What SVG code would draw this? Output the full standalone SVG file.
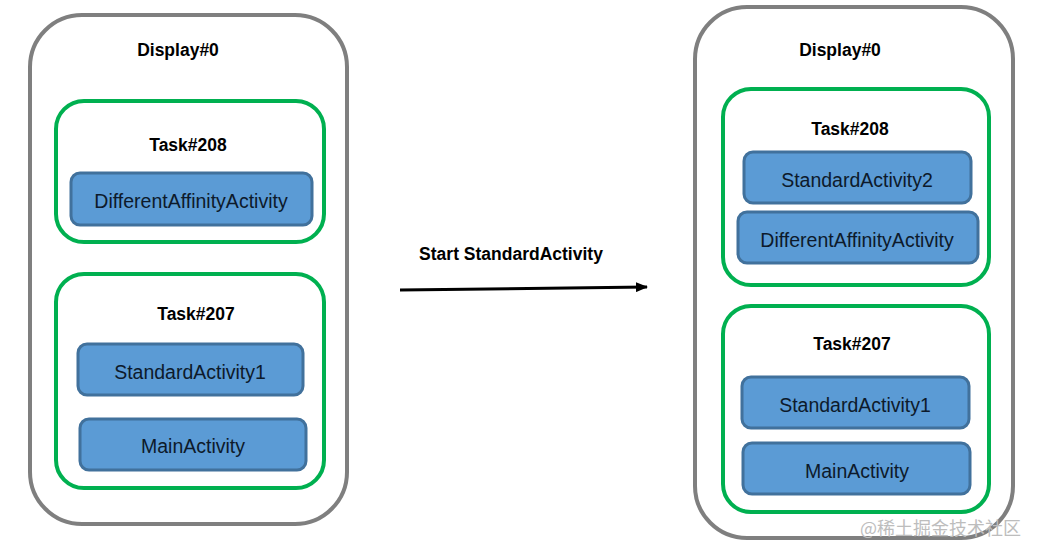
<svg xmlns="http://www.w3.org/2000/svg" width="1038" height="557" viewBox="0 0 1038 557">
<style>
.display{fill:#ffffff;stroke:#7f7f7f;stroke-width:4}
.task{fill:#ffffff;stroke:#00b050;stroke-width:4}
.act{fill:#5b9bd5;stroke:#41719c;stroke-width:3}
.title{font-family:"Liberation Sans",Arial,sans-serif;font-weight:bold;font-size:17.5px;fill:#000;text-anchor:middle}
.label{font-family:"Liberation Sans",Arial,sans-serif;font-size:19.5px;fill:#0d1a2b;text-anchor:middle}
.wm{font-family:"Noto Sans CJK SC",sans-serif;font-size:18px;fill:#bdbdbd}
</style>
<defs>
<marker id="arrow" markerWidth="12" markerHeight="10" refX="11" refY="5" orient="auto" markerUnits="userSpaceOnUse">
<path d="M0,0 L12,5 L0,10 Z" fill="#000"/>
</marker>
</defs>
<rect width="1038" height="557" fill="#ffffff"/>

<g id="display-left">
<rect class="display" x="30" y="15" width="317" height="509" rx="52"/>
<text class="title" x="178" y="56">Display#0</text>
</g>
<g id="task208-left">
<rect class="task" x="56" y="101" width="268" height="141" rx="28"/>
<text class="title" x="188" y="151">Task#208</text>
</g>
<g id="daa-left">
<rect class="act" x="71" y="173" width="241" height="52" rx="9"/>
<text class="label" x="191" y="208">DifferentAffinityActivity</text>
</g>
<g id="task207-left">
<rect class="task" x="56" y="274" width="268" height="214" rx="28"/>
<text class="title" x="196" y="320">Task#207</text>
</g>
<g id="sa1-left">
<rect class="act" x="78" y="344" width="225" height="51" rx="9"/>
<text class="label" x="190" y="379">StandardActivity1</text>
</g>
<g id="main-left">
<rect class="act" x="80" y="419" width="226" height="51" rx="9"/>
<text class="label" x="193" y="453">MainActivity</text>
</g>

<g id="display-right">
<rect class="display" x="695" y="7" width="318" height="531" rx="52"/>
<text class="title" x="840" y="56">Display#0</text>
</g>
<g id="task208-right">
<rect class="task" x="723" y="89" width="266" height="196" rx="28"/>
<text class="title" x="850" y="135">Task#208</text>
</g>
<g id="sa2-right">
<rect class="act" x="744" y="152" width="227" height="51" rx="9"/>
<text class="label" x="857" y="187">StandardActivity2</text>
</g>
<g id="daa-right">
<rect class="act" x="738" y="212" width="240" height="51" rx="9"/>
<text class="label" x="857" y="247">DifferentAffinityActivity</text>
</g>
<g id="task207-right">
<rect class="task" x="723" y="306" width="266" height="206" rx="28"/>
<text class="title" x="852" y="350">Task#207</text>
</g>
<g id="sa1-right">
<rect class="act" x="742" y="377" width="227" height="51" rx="9"/>
<text class="label" x="855" y="412">StandardActivity1</text>
</g>
<g id="main-right">
<rect class="act" x="743" y="443" width="227" height="51" rx="9"/>
<text class="label" x="857" y="478">MainActivity</text>
</g>

<g id="connectors">
<line x1="400" y1="290" x2="647" y2="287" stroke="#000" stroke-width="3" marker-end="url(#arrow)"/>
<text class="title" x="511" y="260">Start StandardActivity</text>
</g>

<text class="wm" x="860" y="535">@稀土掘金技术社区</text>
</svg>
